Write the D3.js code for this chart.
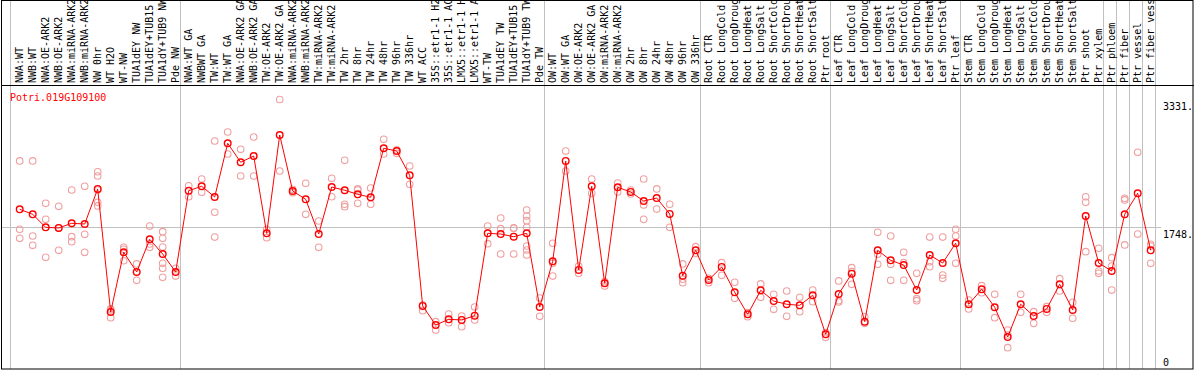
<!DOCTYPE html>
<html>
<head>
<meta charset="utf-8">
<script src="https://cdn.jsdelivr.net/npm/d3@7/dist/d3.min.js"></script>
<style>
  html, body { margin: 0; padding: 0; background: #fff; }
  svg text { font-family: "DejaVu Sans Mono", monospace; font-size: 10px; }
</style>
</head>
<body>
<div id="chart"></div>
<script>
var gene = "Potri.019G109100";

var categories = [
  "NWA:WT", "NWB:WT", "NWA:OE-ARK2", "NWB:OE-ARK2", "NWA:miRNA-ARK2", "NWB:miRNA-ARK2",
  "NW 0hr", "WT H2O", "WT-NW", "TUA1dEY NW", "TUA1dEY+TUB15 NW", "TUA1dY+TUB9 NW", "Pde NW",
  "NWA:WT GA", "NWBWT GA", "TW:WT", "TW:WT GA", "NWA:OE-ARK2 GA", "NWB:OE-ARK2 GA",
  "TW:OE-ARK2", "TW:OE-ARK2 GA", "NWA:miRNA-ARK2 ", "NWB:miRNA-ARK2 ", "TW:miRNA-ARK2",
  "TW:miRNA-ARK2 ", "TW 2hr", "TW 8hr", "TW 24hr", "TW 48hr", "TW 96hr", "TW 336hr",
  "WT ACC", "35S::etr1-1 H2O", "35S::etr1-1 ACC", "LMX5::etr1-1 H2O", "LMX5::etr1-1 ACC",
  "WT-TW", "TUA1dEY TW", "TUA1dEY+TUB15 TW", "TUA1dY+TUB9 TW", "Pde TW",
  "OW:WT", "OW:WT GA", "OW:OE-ARK2", "OW:OE-ARK2 GA", "OW:miRNA-ARK2", "OW:miRNA-ARK2 ",
  "OW 2hr", "OW 8hr", "OW 24hr", "OW 48hr", "OW 96hr", "OW 336hr",
  "Root CTR", "Root LongCold", "Root LongDrought", "Root LongHeat", "Root LongSalt",
  "Root ShortCold", "Root ShortDrought", "Root ShortHeat", "Root ShortSalt", "Ptr root",
  "Leaf CTR", "Leaf LongCold", "Leaf LongDrought", "Leaf LongHeat", "Leaf LongSalt",
  "Leaf ShortCold", "Leaf ShortDrought", "Leaf ShortHeat", "Leaf ShortSalt", "Ptr leaf",
  "Stem CTR", "Stem LongCold", "Stem LongDrought", "Stem LongHeat", "Stem LongSalt",
  "Stem ShortCold", "Stem ShortDrought", "Stem ShortHeat", "Stem ShortSalt",
  "Ptr shoot", "Ptr xylem", "Ptr phloem", "Ptr fiber", "Ptr vessel", "Ptr fiber vessel"
];

// mean expression per sample
var means = [
  1974, 1912, 1751, 1743, 1801, 1792, 2225, 704, 1442, 1199, 1603, 1421, 1199,
  2204, 2258, 2126, 2789, 2555, 2632, 1677, 2892, 2200, 2097, 1668, 2249, 2209,
  2159, 2122, 2728, 2694, 2394, 779, 544, 614, 606, 659, 1677, 1668, 1635, 1677, 766,
  1331, 2571, 1224, 2258, 1059, 2246, 2188, 2076, 2113, 1916, 1153, 1467,
  1100, 1261, 948, 676, 973, 840, 800, 787, 911, 429,
  927, 1178, 585, 1467, 1343, 1285, 976, 1409, 1310, 1554,
  800, 985, 763, 395, 800, 655, 742, 1047, 729, 1891, 1310,
  1211, 1912, 2171, 1467
];

// individual replicates per sample
var replicates = [
  [2571, 1727, 1615], [2571, 1644, 1529], [2048, 1850, 1380], [2011, 1743, 1467],
  [2212, 1635, 1573], [2258, 1665, 1442], [2438, 2385, 2212, 2060, 2015], [742, 729, 634],
  [1504, 1479, 1338], [1298, 1096], [1767, 1545, 1504],
  [1697, 1615, 1508, 1306, 1245, 1133], [1245, 1149],
  [2265, 2129], [2348, 2184], [2818, 1937, 1631], [2929, 2657], [2715, 2385], [2867, 2385],
  [1727, 1623], [3331, 2447], [2221, 2179], [2295, 1912], [1829, 1504], [2357, 2129],
  [2579, 2036, 2006], [2225, 2212, 2048], [2237, 2036], [2839, 2657], [2707, 2666],
  [2509, 2283], [791, 721], [585, 482], [680, 572], [655, 523], [766, 606],
  [1767, 1549], [1866, 1734, 1421], [1743, 1739, 1421],
  [1965, 1891, 1833, 1751, 1520, 1471, 1409], [877, 651],
  [1554, 1306, 1149], [2694, 2447], [1273, 1183], [2348, 2171], [1079, 1026],
  [2299, 2188], [2212, 2163], [2348, 2027, 1850], [2225, 1977], [2036, 1751],
  [1298, 1109, 1067], [1512, 1430],
  [1121, 1067], [1314, 1158], [1072, 874], [696, 646], [1051, 886], [923, 738],
  [964, 651], [886, 708], [976, 832], [449, 392],
  [1088, 844, 828], [1252, 1203, 1047], [646, 565], [1689, 1418, 1294], [1644, 1294, 1096],
  [1442, 1314, 1096], [1183, 869, 844], [1631, 1326, 1264], [1631, 1162, 1121],
  [1727, 1644, 1306],
  [853, 742], [1030, 943], [923, 634], [482, 420, 263], [923, 701], [708, 565],
  [770, 701], [1116, 964], [824, 627], [2129, 2060, 1450], [1492, 1211, 1183],
  [1376, 1273, 976], [2110, 2089, 1533], [2678, 1668], [1541, 1520, 1306]
];

// index of the last sample of each block (a grey separator follows it)
var groupEnds = [12, 40, 52, 62, 72, 83, 84, 85, 86, 87];

var width = 1194;
var height = 370;
var plotTop = 86;
var plotBottom = 369;
var step = 13;

var svg = d3.select("#chart")
  .append("svg")
  .attr("width", width)
  .attr("height", height);

var x = d3.scalePoint()
  .domain(categories)
  .range([19.7, 19.7 + step * (categories.length - 1)]);

var maxVal = d3.max(replicates.flat().concat(means));
var yMax = maxVal * 1.05;
var y = d3.scaleLinear()
  .domain([0, yMax])
  .range([plotBottom, plotTop]);

var crisp = function (v) { return Math.round(v) + 0.5; };

// grey separators
var sepX = [x(categories[0]) - 9.7].concat(groupEnds.map(function (i) {
  return x(categories[i]) + 4.6;
}));
svg.selectAll("line.sep")
  .data(sepX)
  .enter()
  .append("line")
  .attr("class", "sep")
  .attr("x1", function (d) { return crisp(d); })
  .attr("x2", function (d) { return crisp(d); })
  .attr("y1", 0)
  .attr("y2", plotBottom)
  .attr("stroke", "#c0c0c0")
  .attr("stroke-width", 1);

// middle reference line
svg.append("line")
  .attr("x1", 1)
  .attr("x2", 1161)
  .attr("y1", crisp(y(yMax / 2) - 0.5))
  .attr("y2", crisp(y(yMax / 2) - 0.5))
  .attr("stroke", "#c0c0c0");

// frame
svg.append("rect")
  .attr("x", 1.5)
  .attr("y", 0.5)
  .attr("width", width - 2.5)
  .attr("height", plotBottom - 0.5)
  .attr("fill", "none")
  .attr("stroke", "#000");
svg.append("line")
  .attr("x1", 1)
  .attr("x2", width)
  .attr("y1", 85.5)
  .attr("y2", 85.5)
  .attr("stroke", "#000");

// sample labels
svg.append("clipPath").attr("id", "lab")
  .append("rect").attr("x", 0).attr("y", 1).attr("width", width).attr("height", 84);

svg.append("g")
  .attr("clip-path", "url(#lab)")
  .selectAll("text")
  .data(categories)
  .enter()
  .append("text")
  .attr("transform", function (d) {
    return "translate(" + (x(d) + 3.5) + ",83) rotate(-90)";
  })
  .attr("fill", "#000")
  .text(function (d) { return d.trim(); });

// replicates
var repData = [];
replicates.forEach(function (arr, i) {
  arr.forEach(function (v) { repData.push({ c: categories[i], v: v }); });
});
svg.selectAll("circle.rep")
  .data(repData)
  .enter()
  .append("circle")
  .attr("class", "rep")
  .attr("cx", function (d) { return x(d.c); })
  .attr("cy", function (d) { return y(d.v); })
  .attr("r", 3.3)
  .attr("fill", "none")
  .attr("stroke", "#f0a0a0")
  .attr("stroke-width", 1.1);

// mean line
var line = d3.line()
  .x(function (d, i) { return x(categories[i]); })
  .y(function (d) { return y(d); });
svg.append("path")
  .datum(means)
  .attr("d", line)
  .attr("fill", "none")
  .attr("stroke", "#ff0000")
  .attr("stroke-width", 1);

svg.selectAll("circle.mean")
  .data(means)
  .enter()
  .append("circle")
  .attr("class", "mean")
  .attr("cx", function (d, i) { return x(categories[i]); })
  .attr("cy", function (d) { return y(d); })
  .attr("r", 3.3)
  .attr("fill", "none")
  .attr("stroke", "#ff0000")
  .attr("stroke-width", 1.4);

// gene name
svg.append("text")
  .attr("x", 10)
  .attr("y", 101)
  .attr("fill", "#ff0000")
  .text(gene);

// value labels on the right
var yLabels = [
  { v: maxVal, dy: 11 },
  { v: yMax / 2, dy: 10 },
  { v: 0, dy: -3 }
];
svg.selectAll("text.ylab")
  .data(yLabels)
  .enter()
  .append("text")
  .attr("class", "ylab")
  .attr("x", 1163)
  .attr("y", function (d) { return y(d.v) + d.dy; })
  .attr("fill", "#000")
  .text(function (d) { return d.v === 0 ? "0" : Math.floor(d.v) + "."; });
</script>
</body>
</html>
